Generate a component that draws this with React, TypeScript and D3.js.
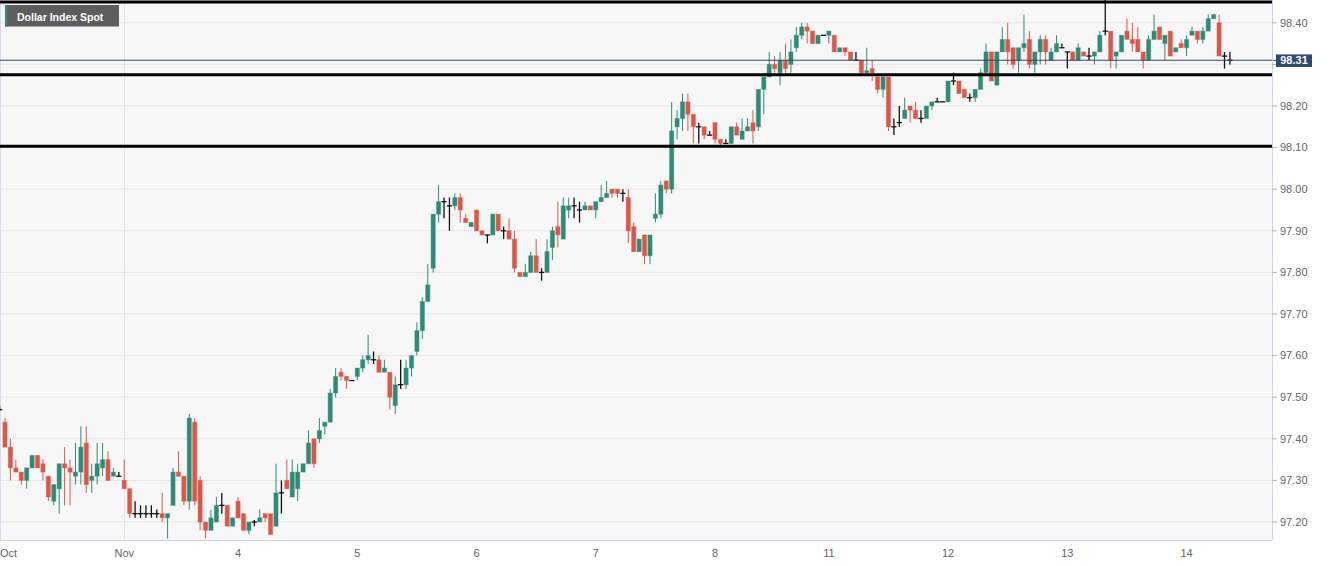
import React from "react";
import * as d3 from "d3";

// Hourly candles, first entry is the partially visible candle at the left edge
const opens = [
  97.47,97.44,97.38,97.33,97.32,97.30,97.33,97.36,97.34,97.31,97.25,
  97.28,97.34,97.33,97.31,97.32,97.39,97.30,97.31,97.33,97.35,
  97.31,97.31,97.30,97.28,97.22,97.22,97.22,97.22,97.22,97.22,
  97.21,97.24,97.32,97.31,97.25,97.44,97.30,97.20,97.18,97.20,
  97.24,97.24,97.19,97.25,97.22,97.18,97.20,97.20,97.22,97.22,
  97.19,97.27,97.30,97.26,97.28,97.32,97.34,97.40,97.40,97.43,
  97.44,97.51,97.56,97.55,97.54,97.55,97.57,97.59,97.59,97.59,
  97.56,97.56,97.48,97.53,97.53,97.57,97.61,97.66,97.73,97.81,
  97.94,97.97,97.96,97.96,97.98,97.93,97.91,97.95,97.90,97.89,
  97.89,97.94,97.90,97.90,97.88,97.80,97.79,97.80,97.84,97.80,
  97.80,97.86,97.91,97.88,97.95,97.96,97.95,97.95,97.96,97.95,
  97.97,97.98,98.00,98.00,97.99,97.98,97.91,97.85,97.89,97.84,
  97.93,97.94,98.02,98.00,98.15,98.17,98.21,98.18,98.15,98.15,
  98.13,98.16,98.12,98.11,98.11,98.15,98.12,98.14,98.16,98.15,
  98.24,98.27,98.30,98.28,98.31,98.30,98.34,98.37,98.39,98.38,
  98.35,98.37,98.37,98.37,98.33,98.34,98.33,98.31,98.31,98.28,
  98.29,98.27,98.24,98.27,98.15,98.16,98.17,98.20,98.19,98.17,
  98.17,98.20,98.21,98.21,98.21,98.26,98.26,98.24,98.22,98.22,
  98.24,98.28,98.33,98.25,98.33,98.36,98.34,98.31,98.34,98.36,
  98.30,98.33,98.36,98.31,98.33,98.34,98.33,98.33,98.31,98.33,
  98.32,98.32,98.33,98.38,98.38,98.32,98.33,98.38,98.36,98.36,
  98.33,98.31,98.36,98.39,98.35,98.38,98.33,98.35,98.34,98.37,
  98.38,98.36,98.38,98.41,98.40,98.32,98.31,
];

const highs = [
  97.48,97.45,97.40,97.35,97.32,97.33,97.36,97.36,97.35,97.31,97.29,
  97.34,97.38,97.35,97.39,97.43,97.43,97.34,97.39,97.39,97.37,
  97.33,97.32,97.35,97.28,97.25,97.24,97.24,97.24,97.23,97.27,
  97.22,97.33,97.37,97.31,97.46,97.45,97.31,97.20,97.23,97.26,
  97.27,97.24,97.21,97.26,97.22,97.20,97.205,97.23,97.22,97.22,
  97.34,97.30,97.35,97.35,97.34,97.34,97.42,97.40,97.45,97.44,
  97.52,97.57,97.57,97.55,97.54,97.57,97.60,97.65,97.61,97.60,
  97.59,97.56,97.55,97.59,97.59,97.60,97.68,97.74,97.82,97.94,
  98.01,97.98,97.98,97.99,97.99,97.94,97.92,97.95,97.90,97.89,
  97.94,97.94,97.91,97.93,97.90,97.80,97.82,97.85,97.88,97.81,
  97.88,97.91,97.97,97.98,97.98,97.98,97.97,97.97,97.96,97.97,
  98.01,98.02,98.00,98.00,98.00,98.00,97.92,97.88,97.89,97.89,
  97.99,98.02,98.02,98.21,98.19,98.23,98.23,98.18,98.16,98.15,
  98.14,98.16,98.12,98.12,98.15,98.16,98.17,98.17,98.19,98.24,
  98.27,98.33,98.32,98.33,98.35,98.36,98.39,98.40,98.40,98.38,
  98.37,98.37,98.38,98.37,98.34,98.34,98.33,98.33,98.31,98.34,
  98.31,98.27,98.27,98.27,98.17,98.20,98.22,98.20,98.21,98.19,
  98.20,98.21,98.22,98.21,98.26,98.28,98.26,98.24,98.23,98.24,
  98.29,98.35,98.33,98.33,98.39,98.40,98.34,98.34,98.42,98.38,
  98.33,98.37,98.37,98.34,98.37,98.35,98.33,98.33,98.35,98.33,
  98.34,98.33,98.38,98.46,98.38,98.33,98.37,98.41,98.40,98.39,
  98.33,98.37,98.42,98.39,98.37,98.38,98.34,98.36,98.37,98.39,
  98.38,98.39,98.42,98.42,98.42,98.33,98.33,
];

const lows = [
  97.47,97.38,97.30,97.32,97.29,97.28,97.33,97.33,97.30,97.25,97.24,
  97.22,97.24,97.24,97.29,97.29,97.27,97.27,97.29,97.31,97.30,
  97.31,97.31,97.28,97.21,97.21,97.21,97.21,97.21,97.21,97.20,
  97.16,97.24,97.31,97.24,97.23,97.24,97.18,97.16,97.18,97.20,
  97.22,97.19,97.19,97.21,97.18,97.17,97.19,97.20,97.20,97.17,
  97.19,97.22,97.28,97.26,97.25,97.32,97.34,97.33,97.39,97.41,
  97.44,97.50,97.54,97.52,97.54,97.54,97.56,97.58,97.58,97.56,
  97.56,97.47,97.46,97.52,97.52,97.55,97.60,97.64,97.73,97.80,
  97.92,97.93,97.90,97.95,97.92,97.92,97.91,97.90,97.89,97.87,
  97.89,97.90,97.88,97.88,97.80,97.79,97.79,97.80,97.80,97.78,
  97.80,97.83,97.86,97.88,97.93,97.93,97.92,97.95,97.95,97.93,
  97.97,97.98,97.98,97.98,97.97,97.87,97.85,97.85,97.82,97.82,
  97.92,97.93,97.99,97.99,98.12,98.14,98.14,98.11,98.11,98.12,
  98.13,98.11,98.10,98.11,98.11,98.13,98.12,98.14,98.11,98.14,
  98.18,98.27,98.28,98.25,98.28,98.28,98.33,98.36,98.35,98.35,
  98.35,98.37,98.35,98.33,98.33,98.32,98.31,98.31,98.28,98.28,
  98.26,98.23,98.22,98.14,98.13,98.15,98.17,98.16,98.17,98.16,
  98.17,98.19,98.21,98.21,98.21,98.25,98.23,98.22,98.21,98.21,
  98.24,98.28,98.26,98.25,98.33,98.30,98.29,98.28,98.33,98.29,
  98.28,98.30,98.30,98.31,98.33,98.34,98.29,98.31,98.31,98.32,
  98.31,98.30,98.33,98.37,98.29,98.29,98.33,98.36,98.33,98.33,
  98.29,98.31,98.36,98.36,98.31,98.32,98.33,98.34,98.32,98.37,
  98.35,98.35,98.38,98.41,98.32,98.29,98.30,
];

const closes = [
  97.47,97.38,97.33,97.32,97.30,97.33,97.36,97.33,97.32,97.26,97.29,
  97.34,97.33,97.32,97.32,97.38,97.29,97.31,97.34,97.35,97.30,
  97.32,97.31,97.28,97.22,97.22,97.22,97.22,97.22,97.22,97.21,
  97.22,97.32,97.31,97.25,97.45,97.25,97.20,97.18,97.21,97.24,
  97.24,97.19,97.21,97.21,97.18,97.20,97.20,97.21,97.21,97.17,
  97.27,97.27,97.28,97.32,97.32,97.34,97.39,97.34,97.42,97.44,
  97.51,97.55,97.55,97.54,97.54,97.57,97.59,97.60,97.59,97.56,
  97.57,97.50,97.53,97.53,97.57,97.60,97.66,97.73,97.77,97.94,
  97.97,97.97,97.96,97.98,97.95,97.92,97.92,97.90,97.89,97.89,
  97.94,97.90,97.90,97.88,97.81,97.79,97.80,97.84,97.80,97.80,
  97.85,97.90,97.89,97.96,97.96,97.96,97.95,97.96,97.95,97.97,
  97.98,97.99,97.99,97.99,97.99,97.90,97.85,97.88,97.84,97.89,
  97.94,98.01,98.00,98.14,98.17,98.21,98.18,98.15,98.15,98.13,
  98.13,98.12,98.11,98.11,98.15,98.13,98.14,98.15,98.14,98.24,
  98.27,98.30,98.29,98.31,98.29,98.33,98.37,98.39,98.38,98.35,
  98.37,98.37,98.38,98.33,98.34,98.33,98.31,98.31,98.28,98.285,
  98.28,98.24,98.27,98.15,98.15,98.16,98.19,98.19,98.17,98.17,
  98.20,98.21,98.21,98.21,98.26,98.26,98.23,98.22,98.22,98.24,
  98.28,98.33,98.26,98.33,98.36,98.33,98.30,98.34,98.35,98.30,
  98.33,98.36,98.33,98.33,98.35,98.34,98.33,98.31,98.34,98.32,
  98.32,98.33,98.37,98.38,98.31,98.33,98.37,98.36,98.35,98.33,
  98.31,98.36,98.38,98.36,98.37,98.32,98.34,98.34,98.36,98.38,
  98.36,98.38,98.41,98.42,98.32,98.32,98.31,
];

const dayLabels = ["Oct", "Nov", "4", "5", "6", "7", "8", "11", "12", "13", "14"];
const dayStarts = [0, 23, 44, 66, 88, 110, 132, 153, 175, 197, 219];
const monthLabels = ["Oct", "Nov"];

const yTicks = [97.2, 97.3, 97.4, 97.5, 97.6, 97.7, 97.8, 97.9, 98.0, 98.1, 98.2, 98.3, 98.4];
const levelLines = [98.45, 98.275, 98.103];
const lastPrice = 98.31;
const seriesName = "Dollar Index Spot";

const W = 1331;
const H = 566;
const PLOT_R = 1272;
const PLOT_B = 540;

const GREEN = "#2f8b76";
const RED = "#d95849";
const FONT = "'Liberation Sans', Arial, Helvetica, sans-serif";

export default function App() {
  const x = d3.scaleLinear().domain([0, opens.length - 1]).range([-0.42, 1229.92]);
  const y = d3.scaleLinear().domain([97.2, 98.4]).range([522, 22.8]);
  const bodyW = 4.2;
  const lastY = y(lastPrice);

  const candles = opens.map((o, k) => {
    const c = closes[k];
    const h = highs[k];
    const l = lows[k];
    const cx = x(k);
    const doji = Math.abs(o - c) < 0.002;
    if (doji) {
      return (
        <g key={k}>
          <line x1={cx} x2={cx} y1={y(h)} y2={y(l)} stroke="#111" strokeWidth={1.3} />
          <line x1={cx - 2.6} x2={cx + 2.6} y1={y(o)} y2={y(o)} stroke="#111" strokeWidth={1.3} />
        </g>
      );
    }
    const col = c > o ? GREEN : RED;
    const top = y(Math.max(o, c));
    const bot = y(Math.min(o, c));
    return (
      <g key={k}>
        <line x1={cx} x2={cx} y1={y(h)} y2={y(l)} stroke={col} strokeWidth={1} />
        <rect
          x={cx - bodyW / 2}
          y={top}
          width={bodyW}
          height={Math.max(1, bot - top)}
          fill={col}
          stroke={col}
          strokeOpacity={0.4}
          strokeWidth={1}
        />
      </g>
    );
  });

  return (
    <svg
      width={W}
      height={H}
      style={{ position: "fixed", left: 0, top: 0, background: "#ffffff" }}
      fontFamily={FONT}
    >
      <defs>
        <clipPath id="plotClip">
          <rect x={0} y={0} width={PLOT_R} height={PLOT_B} />
        </clipPath>
      </defs>
      <rect x={0} y={0} width={PLOT_R} height={PLOT_B} fill="#f7f7f7" />
      {yTicks.map((t) => (
        <line key={t} x1={0} x2={PLOT_R} y1={y(t)} y2={y(t)} stroke="#e4e4e4" strokeWidth={1} />
      ))}
      {dayLabels.map((lab, j) =>
        monthLabels.includes(lab) ? (
          <line
            key={lab}
            x1={Math.round(x(dayStarts[j])) + 0.5}
            x2={Math.round(x(dayStarts[j])) + 0.5}
            y1={0}
            y2={PLOT_B}
            stroke="#e2e2e2"
            strokeWidth={1}
          />
        ) : null
      )}
      <line x1={0.5} x2={0.5} y1={0} y2={PLOT_B} stroke="#d6dcef" strokeWidth={1} />
      <g clipPath="url(#plotClip)">{candles}</g>
      <line x1={0} x2={PLOT_R + 4} y1={lastY} y2={lastY} stroke="#2d4a70" strokeWidth={1} />
      {levelLines.map((v) => (
        <line key={v} x1={0} x2={PLOT_R} y1={y(v)} y2={y(v)} stroke="#000" strokeWidth={3} />
      ))}
      <line x1={PLOT_R + 0.5} x2={PLOT_R + 0.5} y1={0} y2={PLOT_B} stroke="#ccd6eb" strokeWidth={1} />
      <line x1={0} x2={PLOT_R} y1={PLOT_B + 0.5} y2={PLOT_B + 0.5} stroke="#ccd6eb" strokeWidth={1} />
      {yTicks.map((t) => {
        const ty = y(t);
        const hidden = Math.abs(ty - lastY) < 13;
        return (
          <g key={"l" + t}>
            <line x1={PLOT_R} x2={PLOT_R + 5} y1={ty} y2={ty} stroke="#b0b0b0" strokeWidth={1} />
            {hidden ? null : (
              <text x={PLOT_R + 8} y={ty} dy="0.35em" fontSize={11} fill="#666">
                {t.toFixed(2)}
              </text>
            )}
          </g>
        );
      })}
      <rect x={PLOT_R + 4} y={lastY - 5.8} width={36} height={12.5} fill="#2d4a70" />
      <text
        x={PLOT_R + 22}
        y={lastY + 0.4}
        dy="0.35em"
        fontSize={11}
        fontWeight="bold"
        fill="#fff"
        textAnchor="middle"
      >
        {lastPrice.toFixed(2)}
      </text>
      {dayLabels.map((lab, j) => {
        const px = x(dayStarts[j]);
        const atEdge = px < 10;
        return (
          <text
            key={"d" + lab}
            x={atEdge ? 0 : px}
            y={557}
            fontSize={11}
            fill="#666"
            textAnchor={atEdge ? "start" : "middle"}
          >
            {lab}
          </text>
        );
      })}
      <rect x={5} y={5} width={114} height={21.5} fill="#5d5d5d" />
      <rect x={5} y={5} width={2.4} height={21.5} fill={GREEN} />
      <text x={17} y={20.5} fontSize={10.5} fontWeight="bold" fill="#fff">
        {seriesName}
      </text>
    </svg>
  );
}
